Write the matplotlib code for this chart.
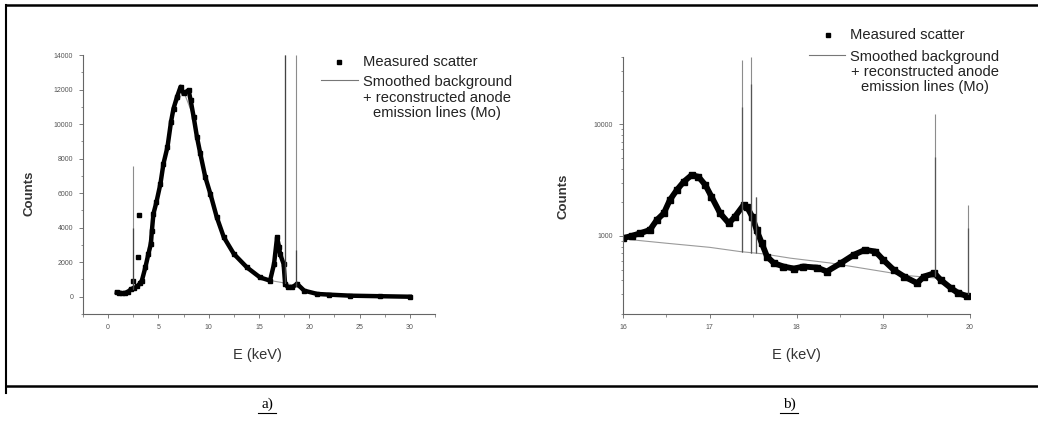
import matplotlib.pyplot as plt
from matplotlib.lines import Line2D
from matplotlib.ticker import MultipleLocator, LogLocator, FuncFormatter, NullFormatter

plt.rcParams['font.family'] = ['Liberation Sans', 'DejaVu Sans']

# ---- panel a) : full spectrum, linear counts
a_e = [0.86, 1.1, 1.4, 1.7, 2.0, 2.3, 2.6, 2.9, 3.2, 3.35, 3.7, 4.0, 4.25, 4.35,
       4.5, 4.8, 5.2, 5.5, 5.9, 6.25, 6.5, 6.85, 7.2, 7.5, 8.0, 8.2, 8.5, 8.83,
       9.16, 9.66, 10.16, 10.8, 11.5, 12.5, 13.8, 15.1, 16.1, 16.5, 16.8, 17.0,
       17.1, 17.45, 17.6, 17.9, 18.3, 18.8, 19.5, 20.8, 22.0, 24.1, 27.0, 30.0]
a_c = [250, 230, 200, 220, 300, 450, 500, 600, 800, 930, 1700, 2480, 3060, 3830,
       4800, 5480, 6550, 7710, 8680, 10130, 10900, 11580, 12160, 11780, 11970, 11390, 10420, 9260,
       8300, 6930, 5970, 4610, 3450, 2480, 1700, 1120, 930, 1900, 3450, 2870,
       2480, 1900, 740, 540, 550, 740, 350, 160, 120, 60, 30, 0]
a_stray_e = [2.5, 3.0, 3.1]
a_stray_c = [930, 2320, 4760]
a_bg_e = [0.86, 1.5, 2.5, 3.5, 4.5, 5.5, 6.5, 7.5, 8.5, 9.5, 11.0, 12.5, 14.0, 15.5,
          16.5, 17.5, 18.5, 20.0, 22.0, 25.0, 30.0]
a_bg_c = [250, 210, 450, 1100, 4700, 7700, 10900, 11900, 10400, 7300, 4100, 2480, 1650, 1050,
          900, 800, 650, 250, 120, 50, 0]
a_spk_e = [2.45, 17.6, 18.7]
a_spk_base = [450, 800, 650]
a_spk_top = [7600, 14000, 14000]
a_spk_dark = [4000, 14000, 2700]

# ---- panel b) : 16-20 keV zoom, log counts
b_e = [16.0, 16.1, 16.2, 16.31, 16.39, 16.47, 16.54, 16.62, 16.7, 16.79, 16.87, 16.95,
       17.02, 17.12, 17.22, 17.29, 17.39, 17.43, 17.49, 17.54, 17.6, 17.66, 17.74, 17.85,
       17.97, 18.08, 18.24, 18.35, 18.51, 18.66, 18.79, 18.91, 19.0, 19.12, 19.24, 19.39,
       19.47, 19.59, 19.66, 19.78, 19.86, 19.97]
b_c = [954, 1000, 1057, 1131, 1390, 1594, 2097, 2575, 3055, 3500, 3385, 2850,
       2245, 1594, 1298, 1487, 1891, 1810, 1487, 1131, 860, 654, 570, 532,
       510, 532, 520, 480, 570, 677, 750, 724, 610, 497, 433, 378,
       433, 464, 405, 341, 308, 288]
b_bg_e = [16.0, 16.5, 17.0, 17.35, 17.62, 17.93, 18.39, 18.62, 19.08, 19.3, 19.6, 19.8, 20.0]
b_bg_c = [940, 860, 790, 724, 690, 632, 572, 535, 468, 440, 420, 350, 290]
b_spk_e = [17.37, 17.48, 17.53, 19.6, 19.98]
b_spk_base = [724, 700, 700, 440, 300]
b_spk_top = [37700, 40000, 2245, 12440, 1890]
b_spk_dark = [14260, 23000, 2245, 5100, 1170]

leg_labels = ['Measured scatter',
              'Smoothed background\n+ reconstructed anode\nemission lines (Mo)']

fig = plt.figure(figsize=(10.38, 4.21), dpi=100)
ax1 = fig.add_axes([0.0800, 0.2542, 0.339, 0.615])
ax2 = fig.add_axes([0.6002, 0.2542, 0.3343, 0.6105])

for ax in (ax1, ax2):
    ax.spines['top'].set_visible(False)
    ax.spines['right'].set_visible(False)
    for s in ('left', 'bottom'):
        ax.spines[s].set_color('#666666')
        ax.spines[s].set_linewidth(0.8)
    ax.tick_params(which='major', direction='out', length=3, width=0.6,
                   colors='#666666', labelsize=5, labelcolor='#555555', pad=4)
    ax.tick_params(which='minor', direction='out', length=1.8, width=0.5, colors='#666666')
    ax.set_ylabel('Counts', fontsize=9.5, fontweight='bold', color='#333333')
    ax.set_xlabel('E (keV)', fontsize=10.5, color='#333333')

# panel a
ax1.plot(a_bg_e, a_bg_c, color='#9a9a9a', lw=0.8, zorder=1)
ax1.plot(a_e, a_c, '-', color='k', lw=3.2, zorder=2)
ax1.plot(a_e, a_c, 's', color='k', ms=3.4, zorder=2)
ax1.plot(a_stray_e, a_stray_c, 's', color='k', ms=3.4, zorder=2)
ax1.vlines(a_spk_e, a_spk_base, a_spk_top, color='#8c8c8c', lw=0.8, zorder=3)
ax1.vlines(a_spk_e, a_spk_base, a_spk_dark, color='#444444', lw=0.9, zorder=3)
ax1.set_xlim(-2.5, 32.5)
ax1.set_ylim(-1000, 14000)
ax1.xaxis.set_major_locator(MultipleLocator(5))
ax1.xaxis.set_minor_locator(MultipleLocator(2.5))
ax1.yaxis.set_major_locator(MultipleLocator(2000))
ax1.yaxis.set_minor_locator(MultipleLocator(1000))
ax1.xaxis.set_major_formatter(FuncFormatter(lambda v, p: '%d' % v if v >= 0 else ''))
ax1.yaxis.set_major_formatter(FuncFormatter(lambda v, p: '%d' % v if v >= 0 else ''))
ax1.yaxis.set_label_coords(-0.136, 0.467)
ax1.xaxis.set_label_coords(0.497, -0.131)

# panel b
ax2.set_yscale('log')
ax2.plot(b_bg_e, b_bg_c, color='#9a9a9a', lw=0.8, zorder=1)
ax2.plot(b_e, b_c, '-', color='k', lw=4.2, zorder=2)
ax2.plot(b_e, b_c, 's', color='k', ms=4.0, zorder=2)
ax2.vlines(b_spk_e, b_spk_base, b_spk_top, color='#8c8c8c', lw=0.8, zorder=3)
ax2.vlines(b_spk_e, b_spk_base, b_spk_dark, color='#555555', lw=0.9, zorder=3)
ax2.set_xlim(16, 20)
ax2.set_ylim(200, 40000)
ax2.xaxis.set_major_locator(MultipleLocator(1))
ax2.xaxis.set_minor_locator(MultipleLocator(0.5))
ax2.yaxis.set_major_locator(LogLocator(base=10))
ax2.yaxis.set_minor_locator(LogLocator(base=10, subs=range(2, 10)))
ax2.yaxis.set_major_formatter(FuncFormatter(lambda v, p: '%d' % v))
ax2.yaxis.set_minor_formatter(NullFormatter())
ax2.xaxis.set_major_formatter(FuncFormatter(lambda v, p: '%d' % v))
ax2.yaxis.set_label_coords(-0.153, 0.459)
ax2.xaxis.set_label_coords(0.5006, -0.132)

# hand-placed legends (handle sits beside the first line of the 3-line label)
def legend(ax, mx, my, lx0, lx1, ly, tx, ty1, tcx, ty2):
    ax.plot([mx], [my], 's', color='k', ms=3.4, transform=ax.transAxes, clip_on=False)
    ax.plot([lx0, lx1], [ly, ly], color='#777777', lw=0.8, transform=ax.transAxes, clip_on=False)
    ax.text(tx, ty1, leg_labels[0], transform=ax.transAxes, fontsize=10.6,
            ha='left', va='center', color='#222222')
    ax.text(tcx, ty2, leg_labels[1], transform=ax.transAxes, fontsize=10.6,
            ha='center', va='center', multialignment='center', linespacing=1.1,
            color='#222222')

legend(ax1, 0.727, 0.973, 0.676, 0.781, 0.903, 0.795, 0.973, 1.007, 0.836)
legend(ax2, 0.592, 1.086, 0.537, 0.640, 1.008, 0.654, 1.086, 0.870, 0.942)

# page frame around the figure pair
W, H = 1038.0, 421.0
fig.add_artist(Line2D([6 / W, 1.0], [1 - 5 / H, 1 - 5 / H], color='k', lw=1.8))
fig.add_artist(Line2D([6 / W, 1.0], [1 - 386 / H, 1 - 386 / H], color='k', lw=1.8))
fig.add_artist(Line2D([6 / W, 6 / W], [1 - 5 / H, 1 - 393 / H], color='k', lw=1.5))

# captions
for cx, lab in ((267, 'a)'), (789, 'b)')):
    fig.text(cx / W, 1 - 404 / H, lab, ha='center', va='center', fontsize=11,
             family=['Liberation Serif', 'DejaVu Serif'])
    fig.add_artist(Line2D([(cx - 9) / W, (cx + 9) / W], [1 - 413 / H, 1 - 413 / H],
                          color='k', lw=0.8))

fig.savefig('out.png', dpi=100)
